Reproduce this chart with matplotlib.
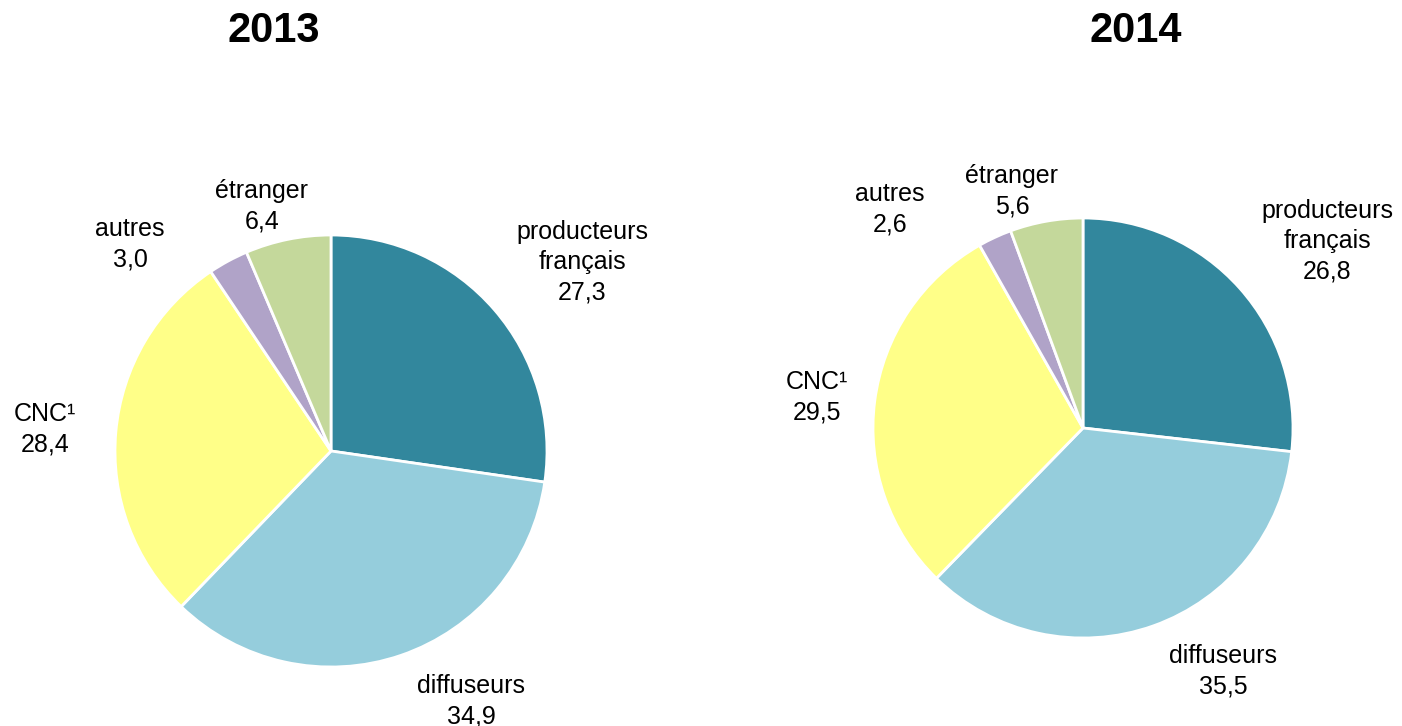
import matplotlib
matplotlib.use("Agg")
import matplotlib.pyplot as plt

# Financing shares (%) of the two years
categories = ["producteurs\nfrançais", "diffuseurs", "CNC¹", "autres", "étranger"]
years = ["2013", "2014"]
values_2013 = [27.3, 34.9, 28.4, 3.0, 6.4]
values_2014 = [26.8, 35.5, 29.5, 2.6, 5.6]
colors = ["#32879D", "#95CDDC", "#FFFF88", "#B0A3C8", "#C4D89B"]

W, H = 1402, 726
plt.rcParams["font.family"] = ["Liberation Sans", "DejaVu Sans"]

fig = plt.figure(figsize=(W / 100, H / 100), dpi=100)
ax = fig.add_axes([0, 0, 1, 1])
ax.set_xlim(0, W)
ax.set_ylim(0, H)
ax.set_aspect("equal")
ax.axis("off")

# pie layout: centre (x, y from top), radius, title x, label block centres (x, y from top)
layouts = [
    dict(center=(331, 451), radius=216, title_x=274,
         labels=[(582, 262), (471, 701), (45, 429), (130, 244), (262, 206)]),
    dict(center=(1083, 428), radius=210, title_x=1136,
         labels=[(1327, 241), (1223, 671), (817, 397), (890, 209), (1012, 191)]),
]

def fmt(v):
    return f"{v:.1f}".replace(".", ",")

for year, vals, lay in zip(years, [values_2013, values_2014], layouts):
    cx, cy = lay["center"]
    ax.pie(vals, colors=colors, startangle=90, counterclock=False,
           center=(cx, H - cy), radius=lay["radius"],
           wedgeprops=dict(edgecolor="white", linewidth=2))
    ax.text(lay["title_x"], H - 31, year, ha="center", va="center",
            fontsize=30, fontweight="bold")
    for cat, v, (lx, ly) in zip(categories, vals, lay["labels"]):
        ax.text(lx, H - ly, f"{cat}\n{fmt(v)}", ha="center", va="center",
                fontsize=18, linespacing=1.32)

ax.set_xlim(0, W)
ax.set_ylim(0, H)
fig.savefig("out.png", dpi=100)
